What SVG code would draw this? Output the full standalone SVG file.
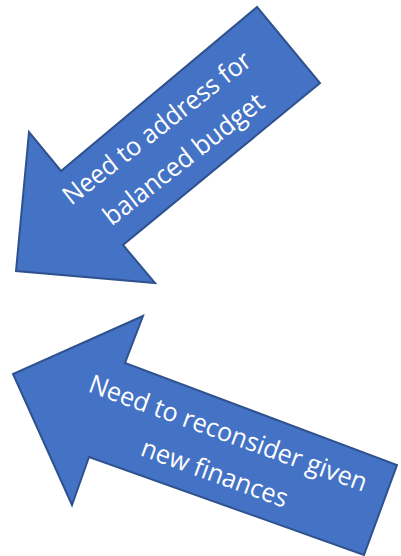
<svg xmlns="http://www.w3.org/2000/svg" width="401" height="556" viewBox="0 0 401 556">
  <style>
    .arrow { fill: #4472C4; stroke: #2F528F; stroke-width: 2; stroke-linejoin: miter; }
    .lbl { fill: #FFFFFF; font-family: "Open Sans", Lato, "Liberation Sans", sans-serif; font-size: 26px; text-anchor: middle; }
  </style>
  <rect width="401" height="556" fill="#FFFFFF"/>
  <g id="arrow-balanced-budget">
    <polygon class="arrow" points="257,7 320,83 123,245 155,283 16,271 29,132 61,171"/>
    <g transform="translate(70,207) rotate(-38)">
      <text class="lbl" x="117" y="0" textLength="231" lengthAdjust="spacingAndGlyphs">Need to address for</text>
      <text class="lbl" x="119" y="41" textLength="196" lengthAdjust="spacingAndGlyphs">balanced budget</text>
    </g>
  </g>
  <g id="arrow-new-finances">
    <polygon class="arrow" points="143,316 125,363 397,465 364,555 89,457 72,505 13,374"/>
    <g transform="translate(86,391) rotate(20)">
      <text class="lbl" x="148" y="0" textLength="294" lengthAdjust="spacingAndGlyphs">Need to reconsider given</text>
      <text class="lbl" x="149" y="42" textLength="154" lengthAdjust="spacingAndGlyphs">new finances</text>
    </g>
  </g>
  <g id="connectors"></g>
</svg>
